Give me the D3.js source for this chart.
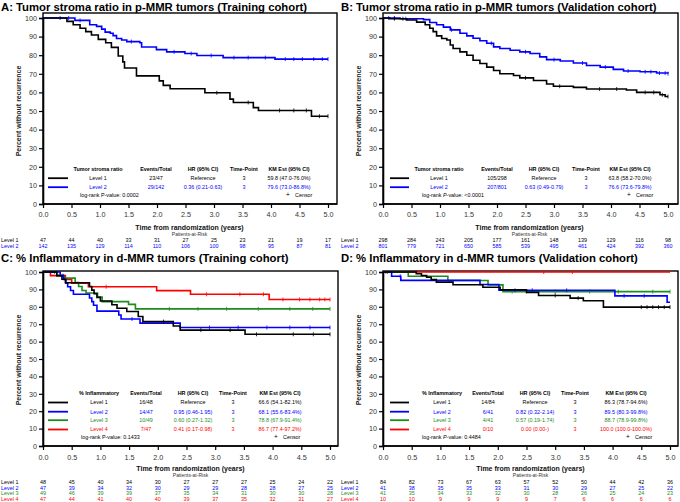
<!DOCTYPE html>
<html><head><meta charset="utf-8">
<script src="https://cdn.jsdelivr.net/npm/d3@7"></script>
<style>
body{margin:0;background:#fff;}
svg{display:block;font-family:"Liberation Sans",Arial,Helvetica,sans-serif;}
</style>
</head><body>
<svg id="chart" width="680" height="502"></svg>
<script>
// ---------------- DATA ----------------
const xTicks = [0,0.5,1,1.5,2,2.5,3,3.5,4,4.5,5];
const yTicks = [0,10,20,30,40,50,60,70,80,90,100];
const levelNames = ["Level 1","Level 2","Level 3","Level 4"];
const levelColors = ["#000000","#0000ff","#1e8c1e","#ff0000"];

// Panel A: Tumor stroma ratio, p-MMR, training
const aL1Times = [0,0.42,0.53,0.65,0.75,0.85,0.97,1.10,1.20,1.32,1.40,1.43,1.64,2.04,2.11,2.23,2.84,3.28,3.34,3.69,3.78,4.71,5.0];
const aL1Surv  = [100,98.2,96.4,94.5,92.7,90.9,88.5,86.7,84.2,79.6,76.4,73.1,68.9,66.2,63.8,62.0,59.8,56.4,54.6,51.8,50.3,47.2,47.2];
const aL1Cens  = [3.05,3.6,4.15,4.4,4.62,4.85,5.0];
const aL2Times = [0,0.56,0.82,0.94,1.03,1.09,1.18,1.23,1.29,1.38,1.47,1.70,1.73,1.99,2.17,2.49,2.70,3.16,4.07,5.0];
const aL2Surv  = [100,98.7,96.4,95.5,94.0,92.4,91.8,90.5,89.0,88.2,87.3,86.7,84.4,83.0,81.8,80.9,79.8,78.7,77.9,77.9];
const aL2Cens  = [0.3,0.45,0.65,1.55,2.3,2.6,2.95,3.35,3.6,3.9,4.25,4.4,4.55,4.75,4.9,5.0];
const aAtRisk1 = [47,44,40,33,31,27,25,23,21,19,17];
const aAtRisk2 = [142,135,129,114,110,106,100,98,95,87,81];
const aEvents  = ["23/47","29/142"];
const aHR      = ["Reference","0.36 (0.21-0.63)"];
const aKM      = ["59.8 (47.0-76.0%)","79.6 (73.0-86.8%)"];

// Panel B: Tumor stroma ratio, p-MMR, validation
const bL1Times = [0,0.12,0.42,0.59,0.74,0.82,0.88,0.94,1.03,1.12,1.18,1.23,1.35,1.47,1.58,1.70,1.82,1.94,2.05,2.29,2.40,2.64,2.87,2.99,3.34,3.57,4.27,4.45,4.86,4.95,5.0];
const bL1Surv  = [100,99.6,98.9,97.8,96.4,94.5,92.7,90.4,89.0,88.2,85.5,83.6,81.8,80.0,77.3,75.5,73.6,71.8,70.0,69.1,67.8,66.4,64.5,63.3,62.7,61.8,61.3,60.0,58.7,57.8,57.8];
const bL1Cens  = [0.2,0.35,2.5,3.1,3.8,4.1,4.6,4.75,4.9,5.0];
const bL2Times = [0,0.30,0.71,0.82,0.94,1.06,1.18,1.35,1.47,1.58,1.70,1.82,1.94,2.05,2.23,2.40,2.58,2.75,2.87,3.11,3.34,3.57,3.81,4.04,4.22,4.51,4.80,5.0];
const bL2Surv  = [100,99.6,99.1,97.6,96.4,95.1,93.6,91.8,90.4,89.1,87.8,86.4,84.5,83.6,82.7,81.8,80.9,79.1,77.6,76.9,75.8,74.5,73.6,72.4,71.5,71.1,70.4,70.1];
const bL2Cens  = [0.1,0.2,0.4,1.2,1.9,2.5,3.0,3.5,3.9,4.3,4.6,4.7,4.85,4.95,5.0];
const bAtRisk1 = [298,284,243,205,177,161,148,139,129,116,98];
const bAtRisk2 = [801,779,721,650,585,539,495,461,424,392,360];
const bEvents  = ["105/298","207/801"];
const bHR      = ["Reference","0.63 (0.49-0.79)"];
const bKM      = ["63.8 (58.2-70.0%)","76.6 (73.6-79.8%)"];

// Panel C: % Inflammatory, d-MMR, training
const cL1Times = [0,0.24,0.33,0.39,0.81,0.85,0.89,0.94,1.00,1.20,1.29,1.46,1.66,1.74,2.27,2.39,3.52,5.0];
const cL1Surv  = [100,97.9,95.8,93.8,91.7,89.6,87.5,85.4,83.3,81.2,79.2,77.3,74.4,71.5,69.0,66.6,64.2,64.2];
const cL1Cens  = [2.1,2.75,3.26,3.72,4.36,4.71,5.0];
const cL2Times = [0,0.30,0.36,0.40,0.43,0.48,0.53,0.81,0.85,0.88,0.94,1.32,1.36,1.69,2.39,5.0];
const cL2Surv  = [100,97.9,95.7,93.6,91.5,89.4,87.2,85.1,83.0,80.9,77.5,75.3,73.0,70.6,68.1,68.1];
const cL2Cens  = [0.35,1.55,2.9,3.4,3.9,4.3,4.65,5.0];
const cL3Times = [0,0.24,0.36,0.56,0.62,0.68,0.75,0.95,1.03,1.49,1.61,5.0];
const cL3Surv  = [100,98.0,96.5,94.0,91.7,89.4,87.9,85.6,83.0,81.4,78.8,78.8];
const cL3Cens  = [0.2,2.2,2.7,3.2,3.75,4.3,4.7,5.0];
const cL4Times = [0,0.13,0.39,0.50,0.79,1.98,2.57,3.94,5.0];
const cL4Surv  = [100,97.9,95.7,93.6,91.5,89.3,87.2,84.2,84.2];
const cL4Cens  = [1.1,2.85,3.43,3.84,4.18,4.47,4.65,4.82,4.91,5.0];
const cAtRisk1 = [48,45,40,34,30,27,27,27,25,24,22];
const cAtRisk2 = [47,39,34,32,30,29,29,28,28,27,25];
const cAtRisk3 = [49,46,39,39,37,35,34,31,30,30,28];
const cAtRisk4 = [47,44,41,40,40,39,37,35,32,31,27];
const cEvents  = ["16/48","14/47","10/49","7/47"];
const cHR      = ["Reference","0.95 (0.46-1.95)","0.60 (0.27-1.32)","0.41 (0.17-0.98)"];
const cKM      = ["66.6 (54.1-82.1%)","68.1 (55.6-83.4%)","78.8 (67.9-91.4%)","86.7 (77.4-97.2%)"];

// Panel D: % Inflammatory, d-MMR, validation
const dL1Times = [0,0.58,0.67,0.76,0.84,0.93,1.22,1.74,2.04,2.50,2.71,3.26,3.49,3.84,5.0];
const dL1Surv  = [100,99.0,98.0,97.0,95.6,94.2,92.7,91.2,89.8,88.3,86.5,85.0,83.5,79.8,79.8];
const dL1Cens  = [3.0,3.4,4.5,4.6,4.7,4.8,4.9,5.0];
const dL2Times = [0,0.15,0.31,1.69,2.02,4.04,4.95,5.0];
const dL2Surv  = [100,97.6,95.2,92.8,89.5,86.3,82.6,82.6];
const dL2Cens  = [0.3,2.3,2.6,3.2,4.2,4.55];
const dL3Times = [0,0.44,1.13,1.83,2.09,5.0];
const dL3Surv  = [100,97.6,95.1,92.6,88.7,88.7];
const dL3Cens  = [0.05,2.25,2.5,3.0,3.6,4.1,4.7,5.0];
const dL4Times = [0,5.0];
const dL4Surv  = [100,100];
const dL4Cens  = [0.08,2.8,3.3];
const dAtRisk1 = [84,82,73,67,63,57,52,50,44,42,36];
const dAtRisk2 = [41,38,35,35,33,31,30,29,27,25,22];
const dAtRisk3 = [41,35,34,33,32,30,28,26,25,24,23];
const dAtRisk4 = [10,10,9,9,9,9,7,6,6,6,6];
const dEvents  = ["14/84","6/41","4/41","0/10"];
const dHR      = ["Reference","0.82 (0.32-2.14)","0.57 (0.19-1.74)","0.00 (0.00-)"];
const dKM      = ["86.3 (78.7-94.6%)","89.5 (80.3-99.8%)","88.7 (78.9-99.8%)","100.0 (100.0-100.0%)"];

// ---------------- PANELS ----------------
const panels = [
  {ox:0, title:"A: Tumor stroma ratio in p-MMR tumors (Training cohort)", header:"Tumor stroma ratio",
   logrank:["log-rank P-value: 0.0002", false],
   series:[[aL1Times,aL1Surv,aL1Cens],[aL2Times,aL2Surv,aL2Cens]], atRisk:[aAtRisk1,aAtRisk2],
   events:aEvents, hr:aHR, km:aKM,
   L:{titleY:11, x0:43, x1:328, xr:337, y0:204, y100:18, yTop:13, tickLblY:216.5, xTitleY:229.6, parY:236,
      riskY:[242,248], yTitleY:111, legY:[171.3,180,189], logY:197.3,
      cols:[98,156,203,244,289], samp:[48,68], logX:80, censX:288}},
  {ox:340, title:"B: Tumor stroma ratio in p-MMR tumors (Validation cohort)", header:"Tumor stroma ratio",
   logrank:["log-rank P-value: <0.0001", true],
   series:[[bL1Times,bL1Surv,bL1Cens],[bL2Times,bL2Surv,bL2Cens]], atRisk:[bAtRisk1,bAtRisk2],
   events:bEvents, hr:bHR, km:bKM,
   L:{titleY:11, x0:43, x1:328, xr:338, y0:204, y100:18, yTop:13, tickLblY:216.5, xTitleY:229.6, parY:236,
      riskY:[242,248], yTitleY:111, legY:[171.3,180,189], logY:197.3,
      cols:[99,157,204,246,290], samp:[50,69], logX:82, censX:289}},
  {ox:0, title:"C: % Inflammatory in d-MMR tumors (Training cohort)", header:"% Inflammatory",
   logrank:["log-rank P-value: 0.1433", false],
   series:[[cL1Times,cL1Surv,cL1Cens],[cL2Times,cL2Surv,cL2Cens],[cL3Times,cL3Surv,cL3Cens],[cL4Times,cL4Surv,cL4Cens]],
   atRisk:[cAtRisk1,cAtRisk2,cAtRisk3,cAtRisk4],
   events:cEvents, hr:cHR, km:cKM,
   L:{titleY:262, x0:43, x1:330, xr:338, y0:446, y100:272, yTop:271, tickLblY:459.5, xTitleY:470.6, parY:476.8,
      riskY:[484.3,489.6,495,501], yTitleY:360, legY:[395.3,404.3,413.5,422,431.3], logY:438.7,
      cols:[99,146,193,233,280], samp:[48,68], logX:81, censX:276}},
  {ox:340, title:"D: % Inflammatory in d-MMR tumors (Validation cohort)", header:"% Inflammatory",
   logrank:["log-rank P-value: 0.4484", true],
   series:[[dL1Times,dL1Surv,dL1Cens],[dL2Times,dL2Surv,dL2Cens],[dL3Times,dL3Surv,dL3Cens],[dL4Times,dL4Surv,dL4Cens]],
   atRisk:[dAtRisk1,dAtRisk2,dAtRisk3,dAtRisk4],
   events:dEvents, hr:dHR, km:dKM,
   L:{titleY:262, x0:43, x1:330, xr:338, y0:446, y100:272, yTop:271, tickLblY:459.5, xTitleY:470.6, parY:476.8,
      riskY:[484.3,489.6,495,501], yTitleY:360, legY:[395.3,404.3,413.5,422,431.3], logY:438.7,
      cols:[102,148,195,235,286], samp:[50,69], logX:82, censX:288}}
];

const svg = d3.select("#chart");

function stepAt(times, surv, t){
  let v = surv[0];
  for (let i=0;i<times.length;i++){ if (times[i] <= t) v = surv[i]; }
  return v;
}

panels.forEach(p => {
  const L = p.L;
  const g = svg.append("g").attr("transform", `translate(${p.ox},0)`);
  const x = d3.scaleLinear().domain([0,5]).range([L.x0, L.x1]);
  const y = d3.scaleLinear().domain([0,100]).range([L.y0, L.y100]);

  // title
  g.append("text").attr("x", 1).attr("y", L.titleY).attr("font-size", 11.3).attr("font-weight","bold")
    .attr("fill","#000").text(p.title);

  // frame
  g.append("rect").attr("x", L.x0).attr("y", L.yTop).attr("width", L.xr - L.x0).attr("height", L.y0 - L.yTop)
    .attr("fill","none").attr("stroke","#000").attr("stroke-width",1.4);

  // y axis
  const yAxis = d3.axisLeft(y).tickValues(yTicks).tickSize(4).tickPadding(2).tickFormat(d3.format("d"));
  const ya = g.append("g").attr("transform", `translate(${L.x0},0)`).call(yAxis);
  ya.select(".domain").attr("stroke","#000").attr("stroke-width",1.6);
  ya.selectAll(".tick line").attr("stroke","#000").attr("stroke-width",1.2);
  ya.selectAll(".tick text").attr("font-size",7.2).attr("fill","#333").attr("font-family","Liberation Sans, Arial, sans-serif");

  // x axis
  const xAxis = d3.axisBottom(x).tickValues(xTicks).tickSize(4).tickFormat(d3.format(".1f"));
  const xa = g.append("g").attr("transform", `translate(0,${L.y0})`).call(xAxis);
  xa.select(".domain").attr("stroke","#000").attr("stroke-width",1.6).attr("d", `M${L.x0},0H${L.xr}`);
  xa.selectAll(".tick line").attr("stroke","#000").attr("stroke-width",1.2);
  xa.selectAll(".tick text").attr("font-size",7.2).attr("fill","#333")
    .attr("font-family","Liberation Sans, Arial, sans-serif").attr("y", null).attr("dy", null)
    .attr("transform", `translate(0,${L.tickLblY - L.y0})`);

  // axis titles
  g.append("text").attr("transform", `translate(21,${L.yTitleY}) rotate(-90)`).attr("text-anchor","middle")
    .attr("font-size",7).attr("font-weight","bold").attr("fill","#222").text("Percent without recurrence");
  g.append("text").attr("x", (L.x0+L.x1)/2 + 4).attr("y", L.xTitleY).attr("text-anchor","middle")
    .attr("font-size",7).attr("font-weight","bold").attr("fill","#111").text("Time from randomization (years)");
  g.append("text").attr("x", (L.x0+L.x1)/2 + 4).attr("y", L.parY).attr("text-anchor","middle")
    .attr("font-size",5).attr("fill","#333").text("Patients-at-Risk");

  // curves (draw in reverse so Level 1 on top)
  const line = d3.line().x(d => x(d[0])).y(d => y(d[1])).curve(d3.curveStepAfter);
  const order = p.series.map((s,i)=>i).reverse();
  order.forEach(i => {
    const [times, surv, cens] = p.series[i];
    const pts = times.map((t,k)=>[t, surv[k]]);
    g.append("path").datum(pts).attr("d", line).attr("fill","none")
      .attr("stroke", levelColors[i]).attr("stroke-width",1.6);
    g.selectAll(null).data(cens).enter().append("line")
      .attr("x1", d => x(d)).attr("x2", d => x(d))
      .attr("y1", d => y(stepAt(times, surv, d)) - 2).attr("y2", d => y(stepAt(times, surv, d)) + 2)
      .attr("stroke", levelColors[i]).attr("stroke-width",0.8);
  });

  // legend
  const fs = 5.4;
  const hdr = [p.header,"Events/Total","HR (95% CI)","Time-Point","KM Est (95% CI)"];
  hdr.forEach((h,k)=>{
    g.append("text").attr("x", L.cols[k]).attr("y", L.legY[0]).attr("text-anchor","middle")
      .attr("font-size",fs).attr("font-weight","bold").attr("fill","#000").text(h);
  });
  p.series.forEach((s,i)=>{
    const yy = L.legY[i+1];
    g.append("line").attr("x1", L.samp[0]).attr("x2", L.samp[1]).attr("y1", yy-1.8).attr("y2", yy-1.8)
      .attr("stroke", levelColors[i]).attr("stroke-width",1.8);
    const cells = [levelNames[i], p.events[i], p.hr[i], "3", p.km[i]];
    cells.forEach((c,k)=>{
      g.append("text").attr("x", L.cols[k]).attr("y", yy).attr("text-anchor","middle")
        .attr("font-size",fs).attr("fill", levelColors[i]).text(c);
    });
  });
  const lr = g.append("text").attr("x", L.logX).attr("y", L.logY).attr("font-size",fs).attr("fill","#000");
  if (p.logrank[1]) {
    lr.append("tspan").text("log-rank ");
    lr.append("tspan").attr("font-style","italic").text("P");
    lr.append("tspan").text(p.logrank[0].replace("log-rank P",""));
  } else lr.text(p.logrank[0]);
  g.append("text").attr("x", L.censX).attr("y", L.logY).attr("text-anchor","middle")
    .attr("font-size",6.5).attr("fill","#000").text("+");
  g.append("text").attr("x", L.censX+7).attr("y", L.logY).attr("font-size",fs).attr("fill","#000").text("Censor");

  // at-risk table
  p.atRisk.forEach((row,i)=>{
    g.append("text").attr("x", 1).attr("y", L.riskY[i]).attr("font-size",5.4).attr("fill", levelColors[i]).text(levelNames[i]);
    g.selectAll(null).data(row).enter().append("text")
      .attr("x", (d,k)=>x(xTicks[k])).attr("y", L.riskY[i]).attr("text-anchor","middle")
      .attr("font-size",5.4).attr("fill", levelColors[i]).text(d=>d);
  });
});
</script>
</body></html>
